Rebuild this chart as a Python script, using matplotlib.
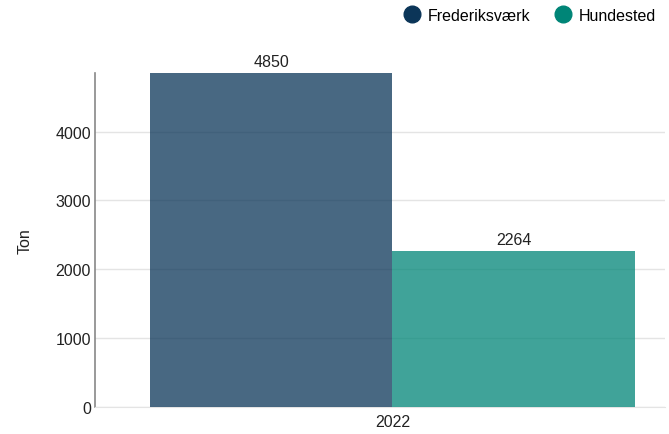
import matplotlib.pyplot as plt
from matplotlib.lines import Line2D

plt.rcParams['font.family'] = ['Liberation Sans', 'DejaVu Sans']

year = '2022'
names = ['Frederiksværk', 'Hundested']
values = [4850, 2264]
colors = ['#0b3558', '#008577']

fig = plt.figure(figsize=(6.69, 4.35), dpi=100)
ax = fig.add_axes([0.142, 0.062, 0.852, 0.768])

xs = [-0.5, 0.5]
for x, v, c in zip(xs, values, colors):
    ax.bar(x, v, width=1.0, color=c, alpha=0.75, zorder=3)
    ax.text(x, v + 60, str(v), ha='center', va='bottom', fontsize=11.5, color='#222222')

ax.set_xlim(-1.227, 1.124)
ax.set_ylim(0, 4850)
ax.set_xticks([0])
ax.set_xticklabels([year])
ax.set_yticks([0, 1000, 2000, 3000, 4000])
ax.grid(axis='y', color='#e4e4e4', linewidth=1, zorder=0)
ax.tick_params(axis='both', length=0, labelsize=11.5, colors='#222222', pad=3)
ax.tick_params(axis='x', pad=5)
for s in ['top', 'right']:
    ax.spines[s].set_visible(False)
ax.spines['left'].set_color('#888888')
ax.spines['left'].set_linewidth(1.2)
ax.spines['bottom'].set_color('#e4e4e4')
ax.set_ylabel('Ton', fontsize=11.5, color='#222222', labelpad=16)

handles = [Line2D([], [], marker='o', linestyle='', markersize=12, color=c) for c in colors]
fig.legend(handles, names, loc='upper right', bbox_to_anchor=(0.997, 1.005), ncol=2, frameon=False,
           fontsize=11.5, handletextpad=0.0, columnspacing=1.0, borderaxespad=0.3)

fig.savefig('out.png', dpi=100)
